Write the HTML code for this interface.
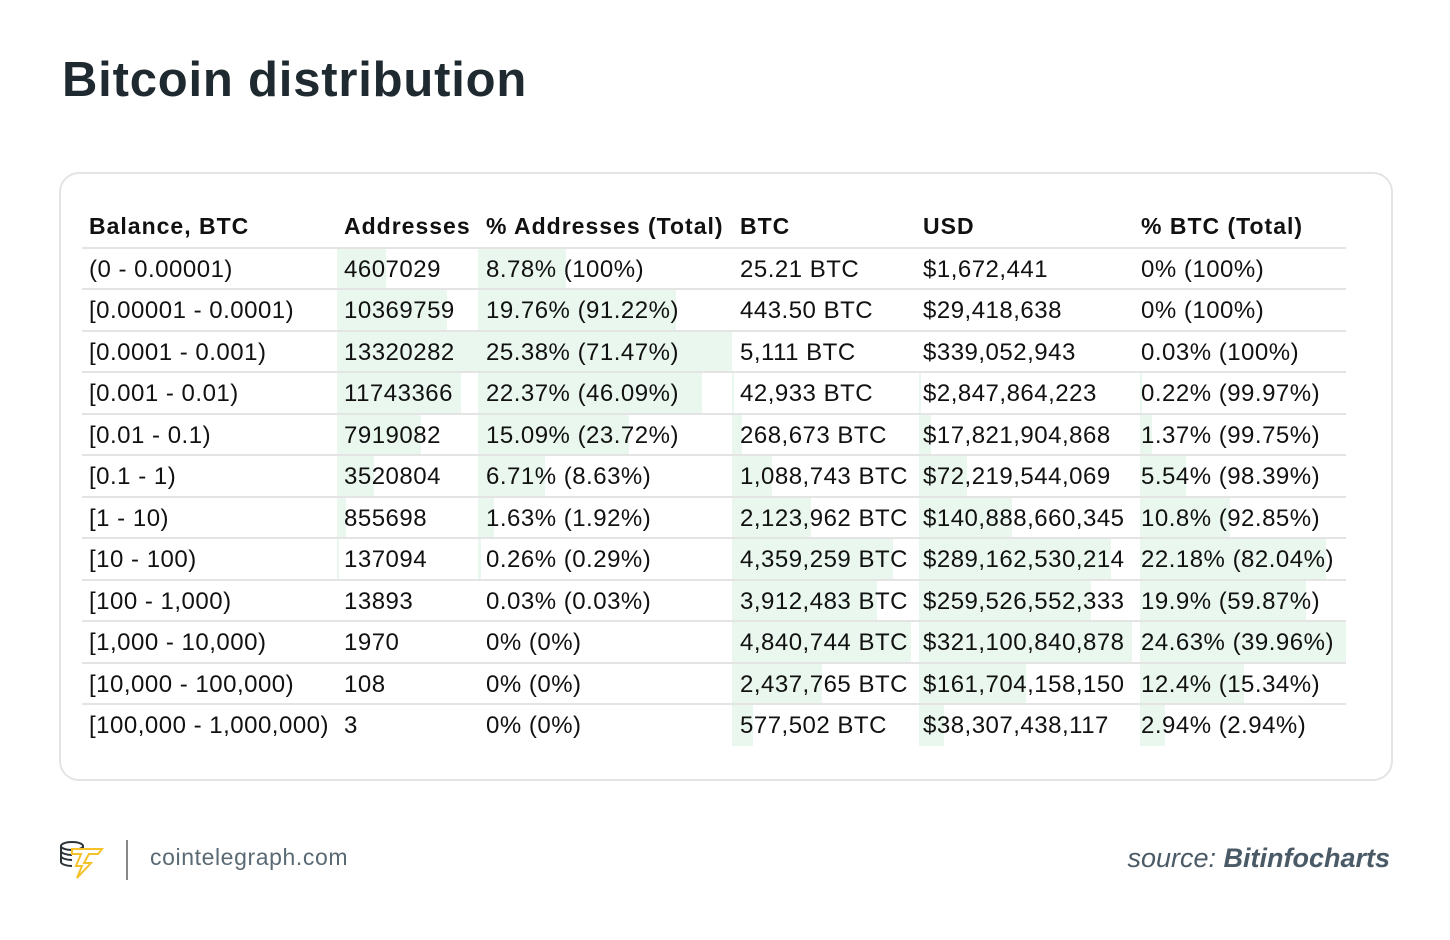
<!DOCTYPE html>
<html><head><meta charset="utf-8"><style>
body{margin:0;width:1450px;height:940px;background:#fff;position:relative;overflow:hidden;font-family:"Liberation Sans",sans-serif;}
.title{position:absolute;left:62px;top:52px;font-size:49px;font-weight:bold;color:#1f2a30;letter-spacing:0.8px;}
.card{position:absolute;left:59px;top:172px;width:1330px;height:605px;border:2px solid #e2e4e6;border-radius:20px;}
.row{position:absolute;left:82px;width:1264px;height:41.45px;}
.row.line{border-top:2px solid #e4e4e4;box-sizing:border-box;}
.c{position:absolute;top:0;line-height:41px;font-size:24px;color:#111;white-space:nowrap;letter-spacing:0.5px;}
.h .c{font-weight:bold;font-size:23px;line-height:56px;letter-spacing:1px;}
.b{position:absolute;top:0;height:41.45px;background:#e9f7ee;}
.foot{position:absolute;left:150px;top:844px;font-size:23px;color:#5a6a75;letter-spacing:0.6px;}
.src{position:absolute;right:60px;top:843px;font-size:27px;font-style:italic;color:#4a5a66;}
</style></head><body>
<div class="title">Bitcoin distribution</div>
<div class="card"></div>
<div class="row h" style="top:198px;height:49px">
<span class="c" style="left:7px">Balance, BTC</span>
<span class="c" style="left:262px">Addresses</span>
<span class="c" style="left:404px">% Addresses (Total)</span>
<span class="c" style="left:658px">BTC</span>
<span class="c" style="left:841px">USD</span>
<span class="c" style="left:1059px">% BTC (Total)</span>
</div>
<div id="rows"></div>
<script>
var d=[
["(0 - 0.00001)","4607029","8.78% (100%)","25.21 BTC","$1,672,441","0% (100%)",49,88,0,0,0],
["[0.00001 - 0.0001)","10369759","19.76% (91.22%)","443.50 BTC","$29,418,638","0% (100%)",110,198,0,0,0],
["[0.0001 - 0.001)","13320282","25.38% (71.47%)","5,111 BTC","$339,052,943","0.03% (100%)",141,254,0,0,0],
["[0.001 - 0.01)","11743366","22.37% (46.09%)","42,933 BTC","$2,847,864,223","0.22% (99.97%)",124,224,2,2,2],
["[0.01 - 0.1)","7919082","15.09% (23.72%)","268,673 BTC","$17,821,904,868","1.37% (99.75%)",84,151,10,12,12],
["[0.1 - 1)","3520804","6.71% (8.63%)","1,088,743 BTC","$72,219,544,069","5.54% (98.39%)",37,67,40,48,46],
["[1 - 10)","855698","1.63% (1.92%)","2,123,962 BTC","$140,888,660,345","10.8% (92.85%)",9,16,79,93,90],
["[10 - 100)","137094","0.26% (0.29%)","4,359,259 BTC","$289,162,530,214","22.18% (82.04%)",2,3,161,192,186],
["[100 - 1,000)","13893","0.03% (0.03%)","3,912,483 BTC","$259,526,552,333","19.9% (59.87%)",0,0,145,172,166],
["[1,000 - 10,000)","1970","0% (0%)","4,840,744 BTC","$321,100,840,878","24.63% (39.96%)",0,0,179,213,206],
["[10,000 - 100,000)","108","0% (0%)","2,437,765 BTC","$161,704,158,150","12.4% (15.34%)",0,0,90,107,104],
["[100,000 - 1,000,000)","3","0% (0%)","577,502 BTC","$38,307,438,117","2.94% (2.94%)",0,0,21,25,25]];
var bl=[255,396,650,837,1058],tl=[7,262,404,658,841,1059],h="";
d.forEach(function(r,i){
 h+='<div class="row line" style="top:'+(247+i*41.45)+'px">';
 for(var k=0;k<5;k++){if(r[6+k]>0)h+='<div class="b" style="left:'+bl[k]+'px;width:'+r[6+k]+'px"></div>';}
 for(var k=0;k<6;k++)h+='<span class="c" style="left:'+tl[k]+'px">'+r[k]+'</span>';
 h+='</div>';});
document.getElementById("rows").innerHTML=h;
</script>
<svg style="position:absolute;left:58px;top:838px" width="46" height="42" viewBox="0 0 46 42">
<g fill="none" stroke="#2a3338" stroke-width="2"><ellipse cx="14" cy="8" rx="11" ry="4"/><path d="M3 8v16c0 2 5 4 11 4M3 13c0 2 5 4 11 4M3 18c0 2 5 4 11 4M25 8v4"/></g>
<path d="M14 11h30l-4 5h-9l-5 9h7l-14 15 5-12h-6l5-12h-9z" fill="#fff" stroke="#f5c22a" stroke-width="2"/>
</svg>
<div style="position:absolute;left:126px;top:840px;width:2px;height:40px;background:#888"></div>
<div class="foot">cointelegraph.com</div>
<div class="src">source: <b>Bitinfocharts</b></div>
</body></html>
